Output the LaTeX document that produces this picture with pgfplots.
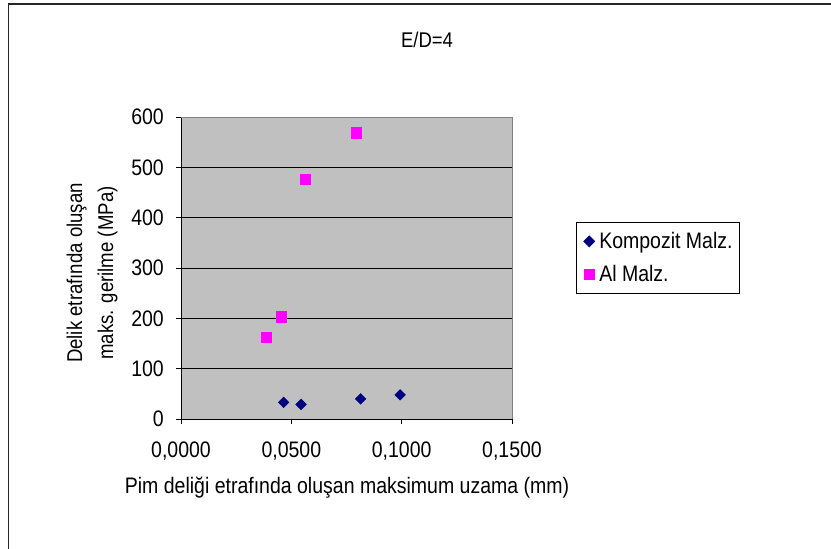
\documentclass[border=0pt]{standalone}
\usepackage{pgfplots}
\pgfplotsset{compat=1.18}
\usepackage{fontspec}
\setmainfont{Liberation Sans}
\definecolor{plotbg}{HTML}{C0C0C0}
\definecolor{navyc}{HTML}{000080}
\definecolor{magc}{HTML}{FF00FF}
\newcommand{\tf}{\fontsize{19.5}{23}\selectfont}
\newcommand{\st}[1]{\scalebox{1}[1.15]{#1}}
\begin{document}
\begin{tikzpicture}
\path[use as bounding box] (0pt,0pt) rectangle (831pt,549pt);
\draw[line width=1.2pt,black!85] (8.5pt,0pt) -- (8.5pt,545pt) -- (831pt,545pt);
\node[anchor=base,font=\fontsize{18.5}{22}\selectfont] at (427pt,501pt) {\st{E/D=4}};
\node[anchor=base,font=\tf] at (347pt,55pt) {\st{Pim deliği etrafında oluşan maksimum uzama (mm)}};
\node[rotate=90,align=center,font=\fontsize{18.6}{31}\selectfont] at (92pt,276pt) {\st{Delik etrafında oluşan}\\\st{maks. gerilme (MPa)}};
\begin{axis}[
  at={(181pt,130pt)}, anchor=south west,
  scale only axis, width=331pt, height=302pt,
  xmin=0, xmax=0.15, ymin=0, ymax=600,
  axis x line*=bottom, axis y line*=left,
  axis line style={black, line width=0.9pt},
  axis background/.style={fill=plotbg},
  xtick={0,0.05,0.1,0.15},
  xticklabels={{\st{0,0000}},{\st{0,0500}},{\st{0,1000}},{\st{0,1500}}},
  ytick={0,100,...,600},
  yticklabels={\st{0},\st{100},\st{200},\st{300},\st{400},\st{500},\st{600}},
  scaled x ticks=false,
  tick align=outside, major tick length=5pt,
  tick style={black, line width=0.8pt},
  ymajorgrids, major grid style={black, line width=0.8pt},
  /pgf/number format/assume math mode=true,
  ticklabel style={font=\tf},
  yticklabel style={inner sep=0pt, xshift=-12pt},
  xticklabel style={inner sep=0pt, yshift=-18pt},
  legend style={at={(1.193,0.652)}, anchor=north west, draw=black, line width=0.8pt,
    fill=white, font=\tf, inner xsep=5pt, inner ysep=8pt, row sep=11pt},
  legend cell align=left,
  legend image code/.code={\path[draw=none,fill=none] (-8pt,0pt) -- (8pt,0pt); \draw[#1] plot coordinates {(0pt,0pt)};},
  clip=false,
]
\draw[gray, line width=0.8pt] (rel axis cs:0,1) -- (rel axis cs:1,1) -- (rel axis cs:1,0);
\addplot[only marks, mark=square*, mark size=3.8pt, mark options={rotate=45, fill=navyc, draw=navyc}, color=navyc]
  coordinates {(0.0465,33) (0.0544,29) (0.0814,40) (0.0993,48)};
\addlegendentry{\st{Kompozit Malz.}}
\addplot[only marks, mark=square*, mark size=5.2pt, mark options={fill=magc, draw=magc}, color=magc]
  coordinates {(0.0385,162) (0.0453,203) (0.0563,476) (0.0794,569)};
\addlegendentry{\st{Al Malz.}}
\end{axis}
\end{tikzpicture}
\end{document}
